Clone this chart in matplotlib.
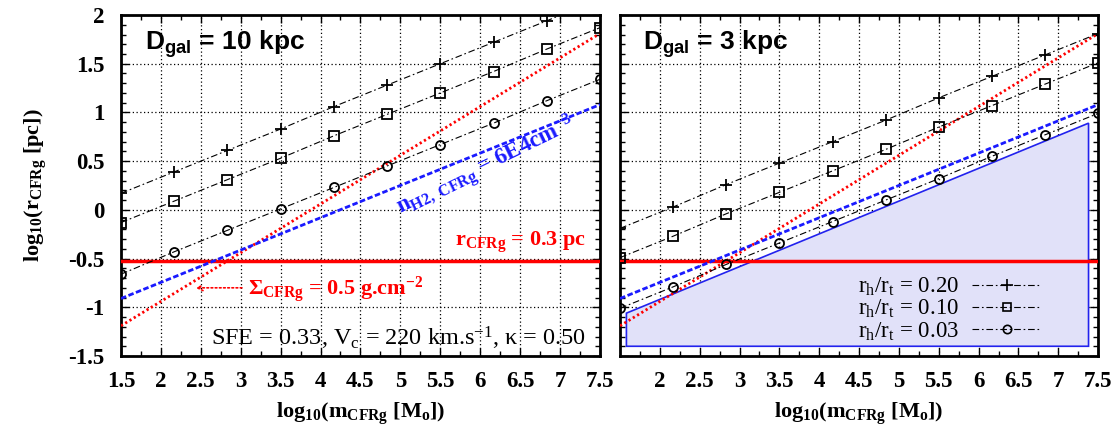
import matplotlib
matplotlib.use("Agg")
import matplotlib.pyplot as plt
from matplotlib.lines import Line2D

plt.rcParams['font.family'] = ['Liberation Serif', 'DejaVu Serif']
plt.rcParams['mathtext.fontset'] = 'custom'
plt.rcParams['mathtext.rm'] = 'Liberation Serif'
plt.rcParams['mathtext.it'] = 'Liberation Serif:italic'
plt.rcParams['mathtext.bf'] = 'Liberation Serif:bold'
plt.rcParams['mathtext.sf'] = 'Liberation Sans:bold'

# log10 cluster mass, points where markers sit
mass = [1.5, 2.167, 2.833, 3.5, 4.167, 4.833, 5.5, 6.167, 6.833, 7.5]

# D_gal = 10 kpc
left_r020 = [0.17, 0.39, 0.61, 0.83, 1.06, 1.28, 1.50, 1.72, 1.94, 2.17]
left_r010 = [-0.13, 0.09, 0.31, 0.53, 0.76, 0.98, 1.20, 1.42, 1.65, 1.87]
left_r003 = [-0.66, -0.43, -0.21, 0.01, 0.23, 0.45, 0.67, 0.89, 1.12, 1.34]

# D_gal = 3 kpc
right_r020 = [-0.19, 0.03, 0.26, 0.48, 0.70, 0.92, 1.15, 1.37, 1.59, 1.81]
right_r010 = [-0.49, -0.27, -0.04, 0.18, 0.40, 0.62, 0.85, 1.07, 1.29, 1.51]
right_r003 = [-1.01, -0.79, -0.56, -0.34, -0.12, 0.10, 0.32, 0.55, 0.77, 0.99]

# constant surface density / volume density / radius lines
sigma_x = [1.5, 7.5]
sigma_y = [-1.19, 1.81]
nh2_x = [1.5, 7.5]
nh2_y = [-0.91, 1.08]
r_const = -0.523

# shaded region, right panel
shade_x = [1.58, 7.38, 7.38, 1.58]
shade_y = [-1.06, 0.89, -1.40, -1.40]

xticks_left = [1.5, 2, 2.5, 3, 3.5, 4, 4.5, 5, 5.5, 6, 6.5, 7, 7.5]
xticks_right = [2, 2.5, 3, 3.5, 4, 4.5, 5, 5.5, 6, 6.5, 7, 7.5]
yticks = [-1.5, -1, -0.5, 0, 0.5, 1, 1.5, 2]
ytick_labels = ['-1.5', '-1', '-0.5', '0', '0.5', '1', '1.5', '2']

series_labels = [r'r$_{\rm h}$/r$_{\rm t}$ = 0.20',
                 r'r$_{\rm h}$/r$_{\rm t}$ = 0.10',
                 r'r$_{\rm h}$/r$_{\rm t}$ = 0.03']
markers = ['+', 's', 'o']
dashdot = (0, (6, 2.5, 1.5, 2.5))

fig = plt.figure(figsize=(11.18, 4.33), dpi=100)
ax1 = fig.add_axes([0.1082, 0.1778, 0.4284, 0.7875])
ax2 = fig.add_axes([0.5546, 0.1778, 0.4276, 0.7875])


def style(ax, xt):
    ax.set_xlim(1.5, 7.5)
    ax.set_ylim(-1.5, 2)
    ax.set_xticks(xt)
    ax.set_xticklabels([('%g' % v) for v in xt], fontsize=16.5, fontweight='bold')
    ax.set_xticks([v + 0.25 for v in xticks_left[:-1]], minor=True)
    ax.set_yticks(yticks)
    ax.set_yticks([v / 10 for v in range(-15, 21)], minor=True)
    ax.tick_params(which='both', direction='in', top=True, right=True)
    ax.tick_params(which='major', length=6, width=1)
    ax.tick_params(axis='x', which='major', pad=11)
    ax.tick_params(axis='y', which='major', pad=12)
    ax.tick_params(which='minor', length=3.5, width=1)
    ax.grid(True, which='major', color='black', linestyle=(0, (1, 2)), linewidth=0.9)
    ax.set_axisbelow(True)
    for s in ax.spines.values():
        s.set_linewidth(2)
    ax.set_xlabel(r'log$_{\mathbf{10}}$(m$_{\mathbf{CFRg}}$ [M$_{\mathbf{o}}$])',
                  fontsize=16, fontweight='bold', labelpad=6)


style(ax1, xticks_left)
style(ax2, xticks_right)
ax1.set_yticklabels(ytick_labels, fontsize=16.5, fontweight='bold')
ax2.set_yticklabels([])
ax1.set_ylabel(r'log$_{\mathbf{10}}$(r$_{\mathbf{CFRg}}$ [pc])', fontsize=16,
               fontweight='bold', labelpad=14)

# right panel shaded zone
ax2.fill(shade_x, shade_y, facecolor='#e1e1f9', edgecolor='#2222ee', linewidth=1.2, zorder=1.5)

for ax, ys in [(ax1, [left_r020, left_r010, left_r003]),
               (ax2, [right_r020, right_r010, right_r003])]:
    ax.axhline(r_const, color='red', linewidth=2.5, zorder=3)
    ax.plot(sigma_x, sigma_y, color='red', linestyle=(0, (0.8, 1.0)), linewidth=2, zorder=3)
    ax.plot(nh2_x, nh2_y, color='#1a1aff', linestyle=(0, (2, 0.9)), linewidth=2, zorder=3)
    for y, m in zip(ys, markers):
        ax.plot(mass, y, color='black', linestyle=dashdot, linewidth=0.8,
                marker=m, markersize=8 if m == '+' else 6.5, markerfacecolor='none',
                markeredgewidth=1.3, markeredgecolor='black', zorder=4)

# annotations
ax1.text(0.05, 0.897, r'$\mathsf{D_{gal}}$ = 10 kpc', transform=ax1.transAxes,
         family='Liberation Sans', fontweight='bold', fontsize=19, va='baseline')
ax2.text(0.048, 0.897, r'$\mathsf{D_{gal}}$ = 3 kpc', transform=ax2.transAxes,
         family='Liberation Sans', fontweight='bold', fontsize=19, va='baseline')

ax1.text(5.0, -0.04, r'n$_{\mathbf{H2,\ CFRg}}$ = 6E4cm$^{\mathbf{-3}}$', color='#1a1aff',
         fontsize=16.5, fontweight='bold', rotation=26, rotation_mode='anchor',
         ha='left', va='baseline')
ax1.text(7.33, -0.37, r'r$_{\mathbf{CFRg}}$ = 0.3 pc', color='red', fontsize=16,
         fontweight='bold', ha='right', va='baseline')
ax1.text(3.09, -0.875, r'Σ$_{\mathbf{CFRg}}$ = 0.5 g.cm$^{\mathbf{-2}}$', color='red',
         fontsize=16, fontweight='bold', ha='left', va='baseline')
ax1.annotate('', xy=(2.40, -0.80), xytext=(3.05, -0.80),
             arrowprops=dict(arrowstyle='->', color='red', linestyle=(0, (1, 1.5)),
                             linewidth=1.2, mutation_scale=10))
ax1.text(7.33, -1.39, r'SFE = 0.33, V$_{\rm c}$ = 220 km.s$^{-1}$, κ = 0.50',
         fontsize=17.5, ha='right', va='baseline')

handles = [Line2D([], [], color='black', linestyle=dashdot, linewidth=0.8, marker=m,
                  markersize=8 if m == '+' else 6, markerfacecolor='none',
                  markeredgewidth=1.2, markeredgecolor='black') for m in markers]
leg = ax2.legend(handles, series_labels, loc='lower right', bbox_to_anchor=(0.9, 0.012),
                 frameon=False, markerfirst=False, fontsize=16.5, handlelength=3.0,
                 handletextpad=0.6, labelspacing=0.0, borderaxespad=0)

fig.savefig('out.png', dpi=100)
